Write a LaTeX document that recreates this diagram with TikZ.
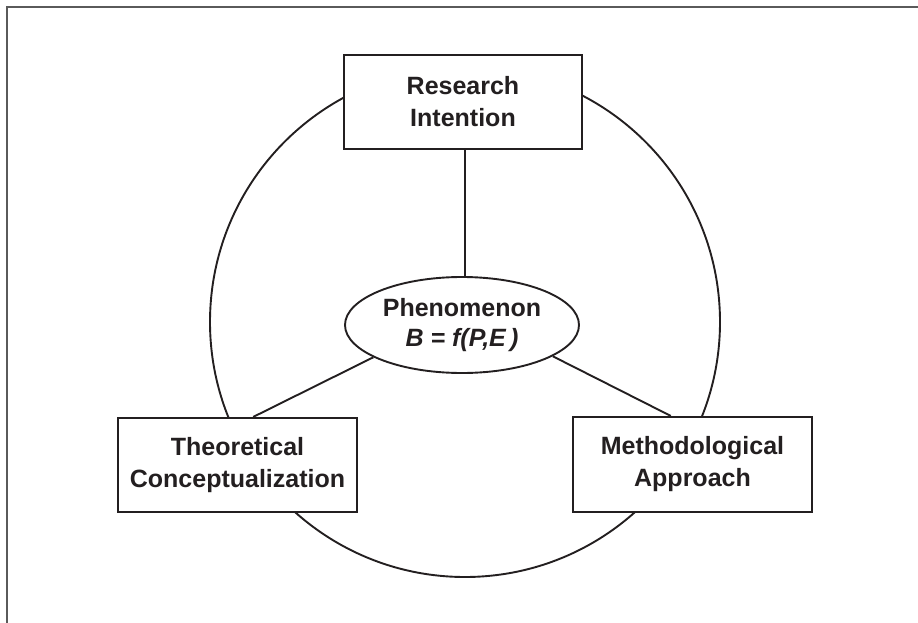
\documentclass[tikz,border=0pt]{standalone}
\usepackage{fontspec}
\setmainfont{Liberation Sans}
\usetikzlibrary{shapes.geometric,calc}
\definecolor{ink}{RGB}{35,31,32}
\definecolor{framegrey}{RGB}{90,90,90}
\begin{document}
\begin{tikzpicture}[x=1pt,y=-1pt,
  labelbox/.style={draw=ink,line width=2.1pt,fill=white,rectangle,
    minimum width=238pt,minimum height=94pt,inner sep=0pt,align=center,
    font=\fontsize{25}{32}\selectfont\bfseries,text=ink},
  core/.style={draw=ink,line width=1.9pt,fill=white,ellipse,
    minimum width=234pt,minimum height=96pt,inner sep=0pt,align=center,
    font=\fontsize{25}{32}\selectfont\bfseries,text=ink},
  link/.style={draw=ink,line width=1.9pt}]
  \useasboundingbox (0,0) rectangle (918,623);
  % open frame along the left and top
  \draw[framegrey,line width=1.8pt] (7,623) -- (7,7) -- (918,7);
  % surrounding circle
  \node[circle,draw=ink,line width=1.9pt,minimum size=510pt,inner sep=0pt] (ring) at (465,322) {};
  % central phenomenon
  \node[core] (phen) at (462,325) {Phenomenon\\[-2pt]{\itshape B = f(P,E\,)}};
  % three surrounding boxes
  \node[labelbox] (ri) at (463,102) {Research\\Intention};
  \node[labelbox,minimum width=239pt] (tc) at (237.5,465) {Theoretical\\Conceptualization};
  \node[labelbox,minimum width=239pt,minimum height=95pt] (ma) at (692.5,464.5) {Methodological\\Approach};
  % links from the phenomenon to each box
  \draw[link] (ri.south) ++(2,0) coordinate (riS) -- (riS |- phen.north);
  \draw[link] (phen.200) -- ($(tc.north west)!0.565!(tc.north east)$);
  \draw[link] (phen.341) -- ($(ma.north west)!0.41!(ma.north east)$);
\end{tikzpicture}
\end{document}
